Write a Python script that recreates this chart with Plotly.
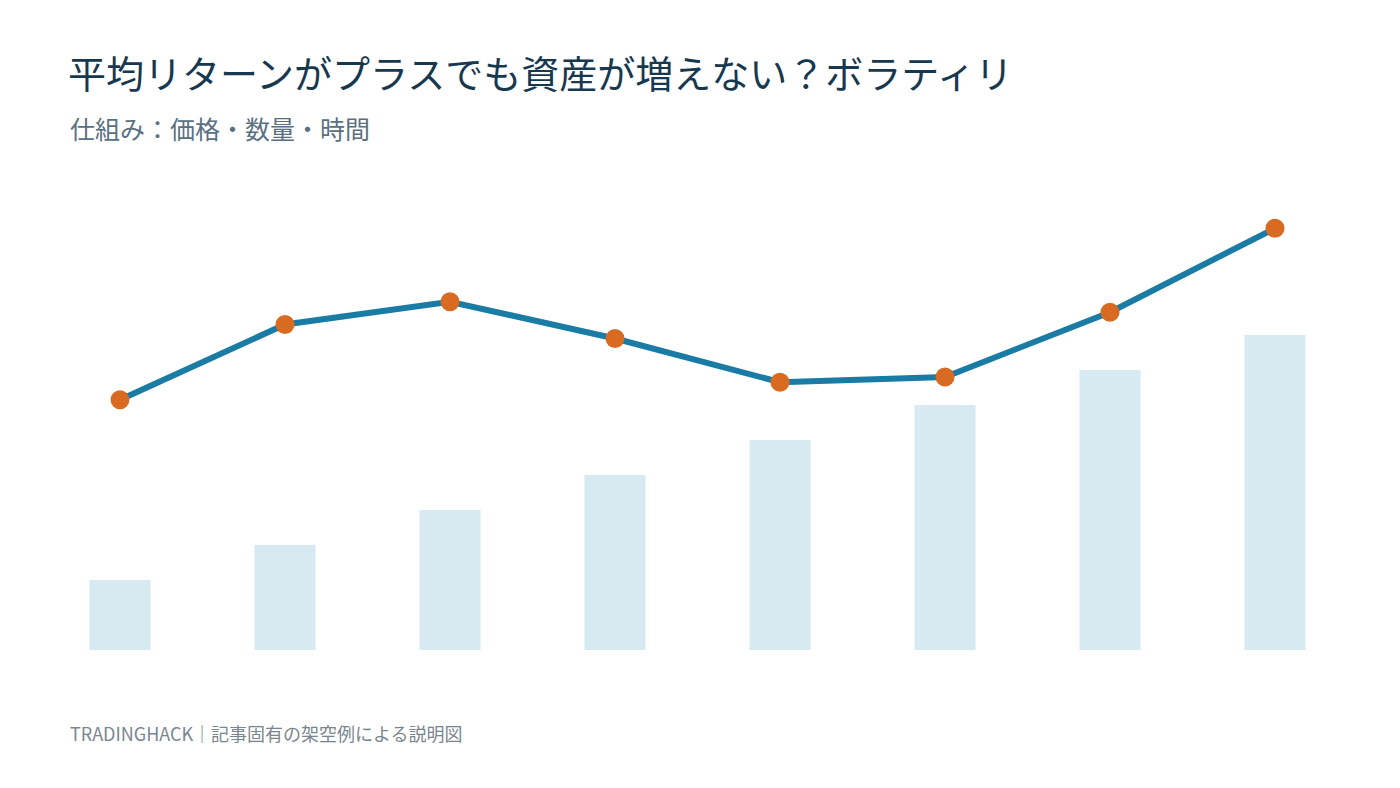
import plotly.graph_objects as go

# data
periods = ["1", "2", "3", "4", "5", "6", "7", "8"]
bar_values = [2, 3, 4, 5, 6, 7, 8, 9]
line_values = [7.15, 9.3, 9.95, 8.9, 7.65, 7.8, 9.65, 12.05]

TITLE = "平均リターンがプラスでも資産が増えない？ボラティリ"
SUBTITLE = "仕組み：価格・数量・時間"
FOOTER = "TRADINGHACK｜記事固有の架空例による説明図"

FONT = "Noto Sans CJK JP, Noto Sans, sans-serif"

# page body has an 8px margin, so everything is shifted back by that
OFF = 8
W, H = 1400.0, 788.0
ML, MR, MT, MB = 68 - OFF, 68 + OFF, 180 - OFF, 138 + OFF
plot_w = W - ML - MR
plot_h = H - MT - MB

x_idx = list(range(len(periods)))

bars = go.Bar(x=x_idx, y=bar_values, width=0.37,
              marker_color="#D7E9F1", marker_line_width=0,
              hoverinfo="skip", showlegend=False)

line = go.Scatter(x=x_idx, y=line_values, mode="lines+markers",
                  line=dict(color="#1A7BA5", width=6),
                  marker=dict(color="#D96A22", size=19),
                  showlegend=False)

fig = go.Figure(data=[bars, line])

x0 = -52 / 165
fig.update_layout(
    width=W, height=H,
    margin=dict(l=ML, r=MR, t=MT, b=MB),
    paper_bgcolor="white",
    plot_bgcolor="white",
    font=dict(family=FONT),
    xaxis=dict(range=[x0, x0 + plot_w / 165], visible=False, fixedrange=True),
    yaxis=dict(range=[0, plot_h / 35], visible=False, fixedrange=True),
)


def px(xp, yp):
    # screen pixel -> paper coords
    xp -= OFF
    yp -= OFF
    return (xp - ML) / plot_w, (H - MB - yp) / plot_h


tx, ty = px(66, 72)
sx, sy = px(68, 128)
fx, fy = px(68, 733)

fig.add_annotation(text=TITLE, x=tx, y=ty, xref="paper", yref="paper",
                   xanchor="left", yanchor="middle", showarrow=False,
                   font=dict(size=38, color="#17384F", family=FONT))
fig.add_annotation(text=SUBTITLE, x=sx, y=sy, xref="paper", yref="paper",
                   xanchor="left", yanchor="middle", showarrow=False,
                   font=dict(size=25, color="#5B707F", family=FONT))
fig.add_annotation(text=FOOTER, x=fx, y=fy, xref="paper", yref="paper",
                   xanchor="left", yanchor="middle", showarrow=False,
                   font=dict(size=18, color="#7A868F", family=FONT))

fig.write_html("out.html")
